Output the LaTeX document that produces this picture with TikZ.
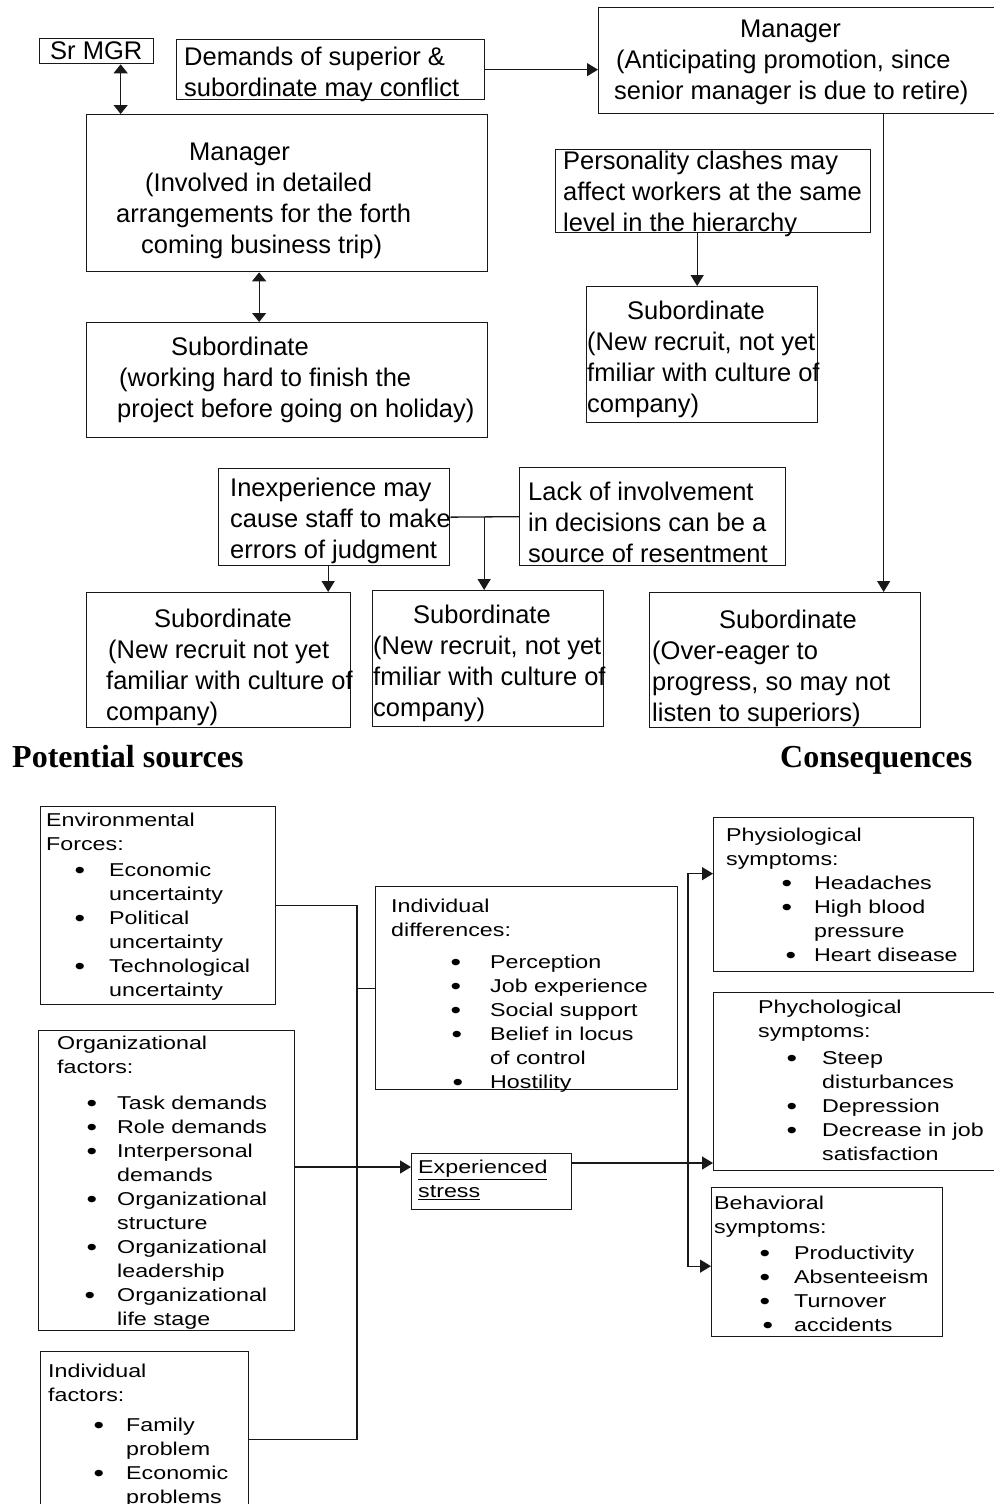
\documentclass[tikz,border=0pt]{standalone}
\usepackage{fontspec}
\setmainfont{Liberation Sans}
\newfontfamily\widesans[FakeStretch=1.25]{Liberation Sans}
\newfontfamily\headserif{Liberation Serif}
\usetikzlibrary{positioning,arrows.meta,calc}
\newcommand{\topfont}{\fontsize{25.5}{31}\selectfont}
\newcommand{\lowfont}{\widesans\fontsize{18.6}{24}\selectfont}
\newcommand{\itm}[1]{\llap{\raisebox{-1.8pt}{\fontsize{24}{24}\selectfont\textbullet}\hspace{#1pt}}}

\begin{document}
\begin{tikzpicture}[x=1pt,y=-1pt,
  box/.style={draw=black!90, line width=1.3pt, inner sep=0pt, anchor=north west},
  ttop/.style={font=\topfont, inner sep=0pt, align=left, anchor=north west},
  tlow/.style={font=\lowfont, inner sep=0pt, align=left, anchor=north west},
  head/.style={font=\headserif\bfseries\fontsize{32}{36}\selectfont, inner sep=0pt, anchor=base west},
  wire/.style={line width=1.3pt, draw=black!90},
  arr/.style={wire, -{Triangle[length=11pt,width=13pt]}},
  darr/.style={wire, {Triangle[length=9pt,width=14pt]}-{Triangle[length=9pt,width=14pt]}},
]
\useasboundingbox (0,0) rectangle (993,1504);

% --- upper chart: the office example
\node[box, minimum width=114pt, minimum height=25pt]  (srmgr)    at (39,38)   {};
\node[ttop] (srmgrT) at (50,41) {Sr MGR};
\node[box, minimum width=308pt, minimum height=60pt]  (demands)  at (176,39)  {};
\node[ttop] (demandsT) at (184,47) {Demands of superior \&\\subordinate may conflict};
\node[box, minimum width=400pt, minimum height=106pt] (mgrB)     at (598,7)   {};
\node[ttop] (mgrBT) at (614,20) {\hspace*{126pt}Manager\\\hspace*{2pt}(Anticipating promotion, since\\senior manager is due to retire)};
\node[box, minimum width=401pt, minimum height=157pt] (mgrA)     at (86,114)  {};
\node[ttop] (mgrAT) at (116,143) {\hspace*{73pt}Manager\\\hspace*{29pt}(Involved in detailed\\arrangements for the forth\\\hspace*{25pt}coming business trip)};
\node[box, minimum width=401pt, minimum height=115pt] (subHol)   at (86,322)  {};
\node[ttop] (subHolT) at (117,337) {\hspace*{54pt}Subordinate\\\hspace*{2pt}(working hard to finish the\\project before going on holiday)};
\node[box, minimum width=315pt, minimum height=83pt]  (clash)    at (555,149) {};
\node[ttop] (clashT) at (563,151) {Personality clashes may\\affect workers at the same\\level in the hierarchy};
\node[box, minimum width=231pt, minimum height=136pt] (subNew)   at (586,286) {};
\node[ttop] (subNewT) at (587,301) {\hspace*{40pt}Subordinate\\(New recruit, not yet\\fmiliar with culture of\\company)};
\node[box, minimum width=231pt, minimum height=97pt]  (inexp)    at (218,468) {};
\node[ttop] (inexpT) at (230,478) {Inexperience may\\cause staff to make\\errors of judgment};
\node[box, minimum width=266pt, minimum height=98pt]  (lack)     at (519,467) {};
\node[ttop] (lackT) at (528,482) {Lack of involvement\\in decisions can be a\\source of resentment};
\node[box, minimum width=264pt, minimum height=135pt] (subNewA)  at (86,592)  {};
\node[ttop] (subNewAT) at (106,609) {\hspace*{48pt}Subordinate\\\hspace*{2pt}(New recruit not yet\\familiar with culture of\\company)};
\node[box, minimum width=231pt, minimum height=136pt] (subNewB)  at (372,590) {};
\node[ttop] (subNewBT) at (373,605) {\hspace*{40pt}Subordinate\\(New recruit, not yet\\fmiliar with culture of\\company)};
\node[box, minimum width=271pt, minimum height=135pt] (subEager) at (649,592) {};
\node[ttop] (subEagerT) at (652,610) {\hspace*{67pt}Subordinate\\(Over-eager to\\progress, so may not\\listen to superiors)};

\path ([xshift=24pt]srmgr.south) coordinate (srDrop)
      ([xshift=-28pt]mgrA.south) coordinate (mgrDrop)
      ([xshift=85pt]mgrB.south) coordinate (mgrBDrop)
      ([xshift=-5pt]subNew.north) coordinate (clashIn)
      ([xshift=-4pt]subNewB.north) coordinate (lackIn)
      ([xshift=-6pt]inexp.south) coordinate (inexpDrop);
\draw[darr] (srDrop) -- (srDrop |- mgrA.north);
\draw[darr] (mgrDrop) -- (mgrDrop |- subHol.north);
\draw[arr] (demands.east) -- (demands.east -| mgrB.west);
\draw[arr] (mgrBDrop) -- (mgrBDrop |- subEager.north);
\draw[arr] (clashIn |- clash.south) -- (clashIn);
\draw[wire] (inexp.east) -- (lack.west);
\draw[arr] (lackIn |- inexp.east) -- (lackIn);
\draw[arr] (inexpDrop) -- (inexpDrop |- subNewA.north);

\node[head] (srcH) at (12,767)  {Potential sources};
\node[head] (conH) at (780,767) {Consequences};

% --- lower chart: sources and consequences of stress
\node[box, minimum width=235pt, minimum height=198pt] (env)     at (40,806)   {};
\node[tlow] (envH) at (46,813) {Environmental\\Forces:};
\node[tlow] (envL) at (109,863) {\itm{24}Economic\\uncertainty\\\itm{24}Political\\uncertainty\\\itm{24}Technological\\uncertainty};
\node[box, minimum width=256pt, minimum height=300pt] (org)     at (38,1030)  {};
\node[tlow] (orgH) at (57,1036) {Organizational\\factors:};
\node[tlow] (orgL) at (117,1096) {\itm{20}Task demands\\\itm{20}Role demands\\\itm{20}Interpersonal\\demands\\\itm{20}Organizational\\structure\\\itm{20}Organizational\\leadership\\\itm{22}Organizational\\life stage};
\node[box, minimum width=208pt, minimum height=176pt] (indf)    at (40,1351)  {};
\node[tlow] (indfH) at (48,1364) {Individual\\factors:};
\node[tlow] (indfL) at (126,1418) {\itm{22}Family\\problem\\\itm{22}Economic\\problems};
\node[box, minimum width=302pt, minimum height=203pt] (inddiff) at (375,886)  {};
\node[tlow] (inddiffH) at (391,899) {Individual\\differences:};
\node[tlow] (inddiffL) at (490,955) {\itm{29}Perception\\\itm{29}Job experience\\\itm{29}Social support\\\itm{28}Belief in locus\\of control\\\itm{27}Hostility};
\node[box, minimum width=160pt, minimum height=56pt]  (exps)    at (411,1153) {};
\node[tlow] (expsT) at (418,1160) {\underline{Experienced}\\\underline{stress}};
\node[box, minimum width=260pt, minimum height=154pt] (physio)  at (713,817)  {};
\node[tlow] (physioH) at (726,828) {Physiological\\symptoms:};
\node[tlow] (physioL) at (814,876) {\itm{22}Headaches\\\itm{22}High blood\\pressure\\\itm{18}Heart disease};
\node[box, minimum width=287pt, minimum height=178pt] (phych)   at (713,992)  {};
\node[tlow] (phychH) at (758,1000) {Phychological\\symptoms:};
\node[tlow] (phychL) at (822,1051) {\itm{25}Steep\\disturbances\\\itm{25}Depression\\\itm{25}Decrease in job\\satisfaction};
\node[box, minimum width=231pt, minimum height=149pt] (behav)   at (711,1187) {};
\node[tlow] (behavH) at (714,1196) {Behavioral\\symptoms:};
\node[tlow] (behavL) at (794,1246) {\itm{24}Productivity\\\itm{24}Absenteeism\\\itm{24}Turnover\\\itm{21}accidents};

\coordinate (bus)  at (357,1167);
\coordinate (fork) at (688,1163);
\draw[wire] (env.east) -- (env.east -| bus) -- (indf.east -| bus) -- (indf.east);
\draw[wire] (inddiff.west -| bus) -- (inddiff.west);
\draw[wire] (org.east |- bus) -- (bus);
\draw[arr] (bus) -- (exps.west |- bus);
\draw[wire] (exps.east |- fork) -- (fork);
\draw[arr] (fork) -- (phych.west |- fork);
\draw[arr] (fork) |- ([yshift=21pt]physio.west);
\draw[arr] (fork) |- ([yshift=-4pt]behav.west);
\end{tikzpicture}
\end{document}
